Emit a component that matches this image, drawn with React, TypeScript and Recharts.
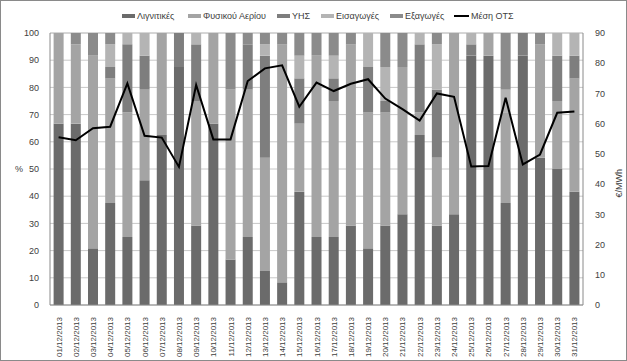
import { ComposedChart, Bar, Line, XAxis, YAxis, CartesianGrid } from 'recharts'

// Hours per day (out of 24) for each category.
const DATES = [
  '01/12/2013', '02/12/2013', '03/12/2013', '04/12/2013', '05/12/2013', '06/12/2013',
  '07/12/2013', '08/12/2013', '09/12/2013', '10/12/2013', '11/12/2013', '12/12/2013',
  '13/12/2013', '14/12/2013', '15/12/2013', '16/12/2013', '17/12/2013', '18/12/2013',
  '19/12/2013', '20/12/2013', '21/12/2013', '22/12/2013', '23/12/2013', '24/12/2013',
  '25/12/2013', '26/12/2013', '27/12/2013', '28/12/2013', '29/12/2013', '30/12/2013',
  '31/12/2013',
]
const LIGNITE = [16, 16, 5, 9, 6, 11, 15, 21, 7, 16, 4, 6, 3, 2, 10, 6, 6, 7, 5, 7, 8, 15, 7, 8, 22, 22, 9, 22, 13, 12, 10]
const GAS = [8, 7, 17, 11, 11, 8, 9, 0, 11, 8, 15, 13, 10, 21, 6, 16, 12, 16, 12, 10, 13, 2, 6, 16, 0, 2, 8, 0, 10, 6, 10]
const HYDRO = [0, 0, 0, 1, 6, 3, 0, 3, 5, 0, 0, 4, 9, 0, 4, 0, 2, 0, 4, 1, 0, 6, 6, 0, 1, 0, 0, 2, 0, 4, 2]
const IMPORTS = [0, 0, 0, 2, 1, 2, 0, 0, 1, 0, 0, 0, 1, 0, 2, 0, 2, 0, 3, 3, 0, 1, 4, 0, 1, 0, 2, 0, 0, 2, 2]
const EXPORTS = [0, 1, 2, 1, 0, 0, 0, 0, 0, 0, 5, 1, 1, 1, 2, 2, 2, 1, 0, 3, 3, 0, 1, 0, 0, 0, 5, 0, 1, 0, 0]
// Μέση ΟΤΣ in €/MWh (right axis)
const SMP = [55.5, 54.5, 58.5, 59.0, 73.3, 56.0, 55.4, 45.7, 72.8, 54.8, 54.8, 74.1, 78.3, 79.3, 65.6, 73.6, 70.8, 73.2, 74.7, 68.3, 64.8, 61.0, 70.0, 68.9, 45.8, 46.0, 68.6, 46.5, 49.8, 63.6, 64.0]

const LEFT_TICKS = [0, 10, 20, 30, 40, 50, 60, 70, 80, 90, 100]
const RIGHT_TICKS = [0, 10, 20, 30, 40, 50, 60, 70, 80, 90]

const SERIES = [
  { key: 'lig', name: 'Λιγνιτικές', color: '#6b6b6b' },
  { key: 'gas', name: 'Φυσικού Αερίου', color: '#a4a4a4' },
  { key: 'hyd', name: 'ΥΗΣ', color: '#7e7e7e' },
  { key: 'imp', name: 'Εισαγωγές', color: '#b4b4b4' },
  { key: 'exp', name: 'Εξαγωγές', color: '#8b8b8b' },
]

const pct = (h: number) => (h / 24) * 100

const rows = DATES.map((d, i) => ({
  date: d,
  lig: pct(LIGNITE[i]),
  gas: pct(GAS[i]),
  hyd: pct(HYDRO[i]),
  imp: pct(IMPORTS[i]),
  exp: pct(EXPORTS[i]),
  smp: SMP[i],
}))

const FONT = '"Liberation Sans", Arial, sans-serif'

function DateTick({ x, y, payload }: any) {
  return (
    <text
      x={x}
      y={y}
      transform={`rotate(-90, ${x}, ${y})`}
      textAnchor="end"
      dy={3}
      dx={-4}
      fontSize={8}
      fill="#404040"
      fontFamily={FONT}
    >
      {payload.value}
    </text>
  )
}

// Legend laid out like the original (single row across the top)
function TopLegend() {
  const item = (left: number, label: string, color: string, line = false) => (
    <div key={label} style={{ position: 'absolute', left, top: 10, display: 'flex', alignItems: 'center', whiteSpace: 'nowrap' }}>
      <span
        style={{
          display: 'inline-block',
          width: line ? 15 : 13,
          height: line ? 2 : 4,
          background: color,
          marginRight: 2,
        }}
      />
      <span style={{ fontSize: 9, color: '#404040', fontFamily: FONT }}>{label}</span>
    </div>
  )
  return (
    <>
      {item(121, SERIES[0].name, SERIES[0].color)}
      {item(187, SERIES[1].name, SERIES[1].color)}
      {item(276, SERIES[2].name, SERIES[2].color)}
      {item(320, SERIES[3].name, SERIES[3].color)}
      {item(389, SERIES[4].name, SERIES[4].color)}
      {item(453, 'Μέση ΟΤΣ', '#000', true)}
    </>
  )
}

export default function App() {
  return (
    <div
      style={{
        position: 'absolute',
        left: 0,
        top: 0,
        width: 627,
        height: 361,
        background: '#fff',
        border: '1px solid #8a8a8a',
        boxSizing: 'border-box',
      }}
    >
      <div style={{ position: 'absolute', left: -1, top: -1 }}>
        <ComposedChart
          width={627}
          height={361}
          data={rows}
          margin={{ top: 33, right: 0, left: 0, bottom: 0 }}
          barCategoryGap="21%"
        >
          <CartesianGrid yAxisId="pct" vertical={false} stroke="#c8c8c8" />
          <XAxis
            dataKey="date"
            interval={0}
            height={56}
            tick={<DateTick />}
            tickLine={false}
            axisLine={{ stroke: '#8a8a8a' }}
          />
          <YAxis
            yAxisId="pct"
            width={50}
            domain={[0, 100]}
            ticks={LEFT_TICKS}
            interval={0}
            tickLine={false}
            axisLine={{ stroke: '#8a8a8a' }}
            tick={{ fontSize: 9, fill: '#404040', fontFamily: FONT }}
            tickMargin={5}
            label={{ value: '%', position: 'insideLeft', offset: 15, fontSize: 9, fill: '#404040', fontFamily: FONT }}
          />
          <YAxis
            yAxisId="eur"
            orientation="right"
            width={44}
            domain={[0, 90]}
            ticks={RIGHT_TICKS}
            interval={0}
            tickLine={false}
            axisLine={{ stroke: '#8a8a8a' }}
            tick={{ fontSize: 9, fill: '#404040', fontFamily: FONT, textAnchor: 'start' }}
            tickMargin={6}
            label={{ value: '€/MWh', angle: -90, position: 'insideRight', offset: 8, fontSize: 9, fill: '#404040', fontFamily: FONT }}
          />
          {SERIES.map((s) => (
            <Bar
              key={s.key}
              yAxisId="pct"
              dataKey={s.key}
              name={s.name}
              stackId="mix"
              fill={s.color}
              isAnimationActive={false}
            />
          ))}
          <Line
            yAxisId="eur"
            type="linear"
            dataKey="smp"
            name="Μέση ΟΤΣ"
            stroke="#000"
            strokeWidth={2}
            dot={false}
            isAnimationActive={false}
          />
        </ComposedChart>
      </div>
      <TopLegend />
    </div>
  )
}
